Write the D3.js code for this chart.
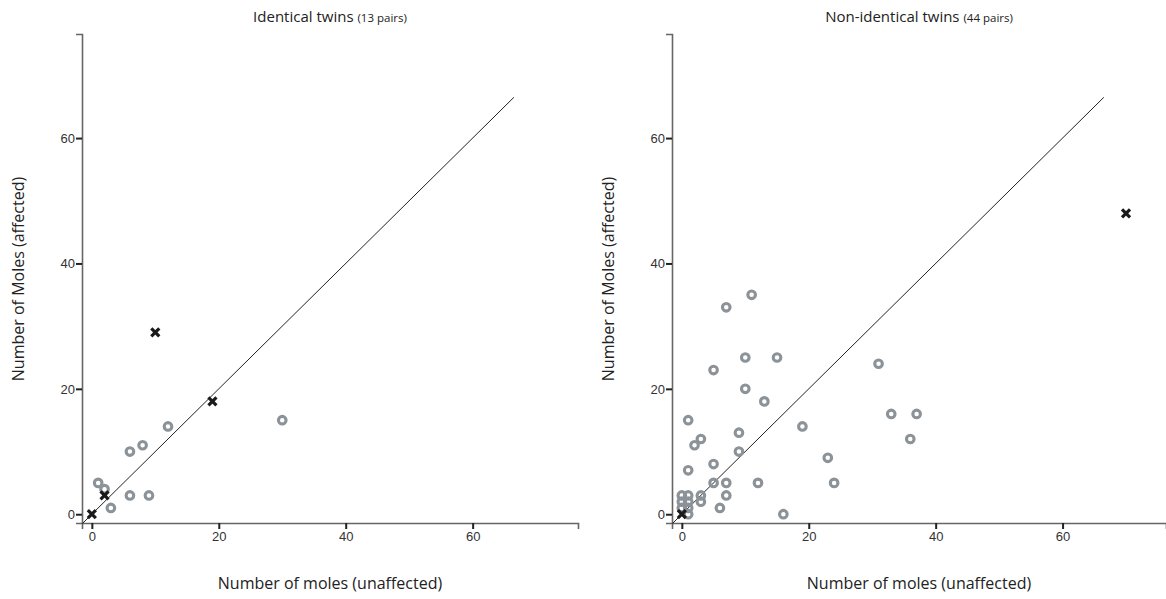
<!DOCTYPE html>
<html>
<head>
<meta charset="utf-8">
<script src="https://cdn.jsdelivr.net/npm/d3@7"></script>
<style>
  body { margin: 0; background: #fff; }
  .tick text { font-family: "Liberation Sans", Arial, sans-serif; font-size: 13px; fill: #333; }
  .title { font-family: "Open Sans", sans-serif; font-size: 15px; fill: #222; }
  .alabel { font-family: "Open Sans", sans-serif; font-size: 16px; fill: #222; }
</style>
</head>
<body>
<div id="chart"></div>
<script>
// identical twins: [unaffected, affected]
var identCircles = [[1,5],[2,4],[3,1],[6,10],[8,11],[6,3],[9,3],[12,14],[30,15]];
var identCrosses = [[0,0],[2,3],[10,29],[19,18]];

// non-identical twins
var nonCircles = [[11,35],[7,33],[10,25],[15,25],[5,23],[31,24],[10,20],[13,18],[1,15],[19,14],
                  [33,16],[37,16],[36,12],[9,13],[3,12],[2,11],[9,10],[23,9],[5,8],[1,7],
                  [5,5],[7,5],[12,5],[24,5],[7,3],[6,1],[16,0],[0,3],[1,3],[3,3],
                  [0,2],[1,2],[3,2],[0,1],[1,1],[1,0]];
var nonCrosses = [[0,0],[70,48]];

var ticks = [0, 20, 40, 60];
var refLine = [[-1.5,-1.5],[66.5,66.5]];

var panels = [
  {title: "Identical twins", sub: "(13 pairs)", circles: identCircles, crosses: identCrosses,
   left: 82, right: 578, xmax: 76.6},
  {title: "Non-identical twins", sub: "(44 pairs)", circles: nonCircles, crosses: nonCrosses,
   left: 672, right: 1166, xmax: 76.3}
];

var W = 1166, H = 599, plotTop = 34, plotBottom = 523;

var svg = d3.select("#chart").append("svg")
    .attr("width", W).attr("height", H);

panels.forEach(function(p) {
  var x = d3.scaleLinear().domain([-1.55, p.xmax]).range([p.left, p.right]);
  var y = d3.scaleLinear().domain([-1.4, 76.6]).range([plotBottom, plotTop]);
  var g = svg.append("g");

  // axes
  var xa = g.append("g")
      .attr("transform", "translate(0," + plotBottom + ")")
      .call(d3.axisBottom(x).tickValues(ticks).tickSize(6).tickPadding(3));
  var ya = g.append("g")
      .attr("transform", "translate(" + p.left + ",0)")
      .call(d3.axisLeft(y).tickValues(ticks).tickSize(6).tickPadding(1));
  [xa, ya].forEach(function(a) {
    a.select(".domain").attr("stroke", "#666").attr("stroke-width", 1.6);
    a.selectAll(".tick line").attr("stroke", "#222").attr("stroke-width", 2);
  });

  // reference line
  var line = d3.line().x(function(d){ return x(d[0]); }).y(function(d){ return y(d[1]); });
  g.append("path")
      .attr("d", line(refLine))
      .attr("fill", "none")
      .attr("stroke", "#222")
      .attr("stroke-width", 1);

  // circles
  g.selectAll(".pt").data(p.circles).enter().append("circle")
      .attr("cx", function(d){ return x(d[0]); })
      .attr("cy", function(d){ return y(d[1]); })
      .attr("r", 3.8)
      .attr("fill", "none")
      .attr("stroke", "#8b9298")
      .attr("stroke-width", 3.1);

  // crosses
  var s = 4;
  g.selectAll(".cr").data(p.crosses).enter().append("path")
      .attr("transform", function(d){ return "translate(" + x(d[0]) + "," + y(d[1]) + ")"; })
      .attr("d", "M" + (-s) + "," + (-s) + "L" + s + "," + s + "M" + (-s) + "," + s + "L" + s + "," + (-s))
      .attr("stroke", "#1a1a1a")
      .attr("stroke-width", 3.2);

  // title
  var cx = (p.left + Math.min(p.right, p.left + 496)) / 2;
  var t = svg.append("text").attr("class", "title")
      .attr("x", cx).attr("y", 22).attr("text-anchor", "middle");
  t.append("tspan").text(p.title + " ");
  t.append("tspan").attr("font-size", "11.5px").text(p.sub);

  // axis labels
  svg.append("text").attr("class", "alabel")
      .attr("x", cx).attr("y", 589).attr("text-anchor", "middle")
      .text("Number of moles (unaffected)");
  svg.append("text").attr("class", "alabel")
      .attr("text-anchor", "middle")
      .attr("transform", "translate(" + (p.left - 58) + "," + 279 + ")rotate(-90)")
      .text("Number of Moles (affected)");
});
</script>
</body>
</html>
